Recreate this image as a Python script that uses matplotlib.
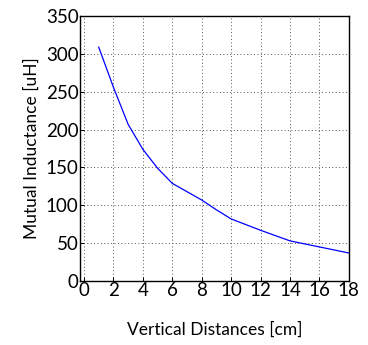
import matplotlib
matplotlib.use("Agg")
import matplotlib.pyplot as plt

# vertical distance [cm] vs mutual inductance [uH]
dist = [1, 2, 3, 4, 5, 6, 7, 8, 9, 10, 12, 14, 16, 18]
mutual = [309, 256, 207, 174, 149, 129, 118, 107, 94, 82, 67, 53, 45, 37]
xticks = [0, 2, 4, 6, 8, 10, 12, 14, 16, 18]
yticks = [0, 50, 100, 150, 200, 250, 300, 350]

plt.rcParams["font.family"] = ["Lato", "DejaVu Sans"]

fig = plt.figure(figsize=(3.68, 3.45), dpi=100)
ax = fig.add_axes([0.2174, 0.1855, 0.7306, 0.768])
ax.plot(dist, mutual, color="#0000ff", lw=0.9)

ax.set_xlim(-0.27, 18)
ax.set_ylim(0, 350)
ax.set_xticks(xticks)
ax.set_yticks(yticks)
ax.grid(True, linestyle=(0, (1, 2.5)), color="#555555", lw=0.7)
ax.tick_params(direction="in", length=3, labelsize=13.5, pad=1, width=0.7)
for s in ax.spines.values():
    s.set_linewidth(1.0)

ax.set_ylabel("Mutual Inductance [uH]", fontsize=12.5, labelpad=4)
ax.set_xlabel("Vertical Distances [cm]", fontsize=12.5, labelpad=16)

fig.savefig("out.png", dpi=100)
